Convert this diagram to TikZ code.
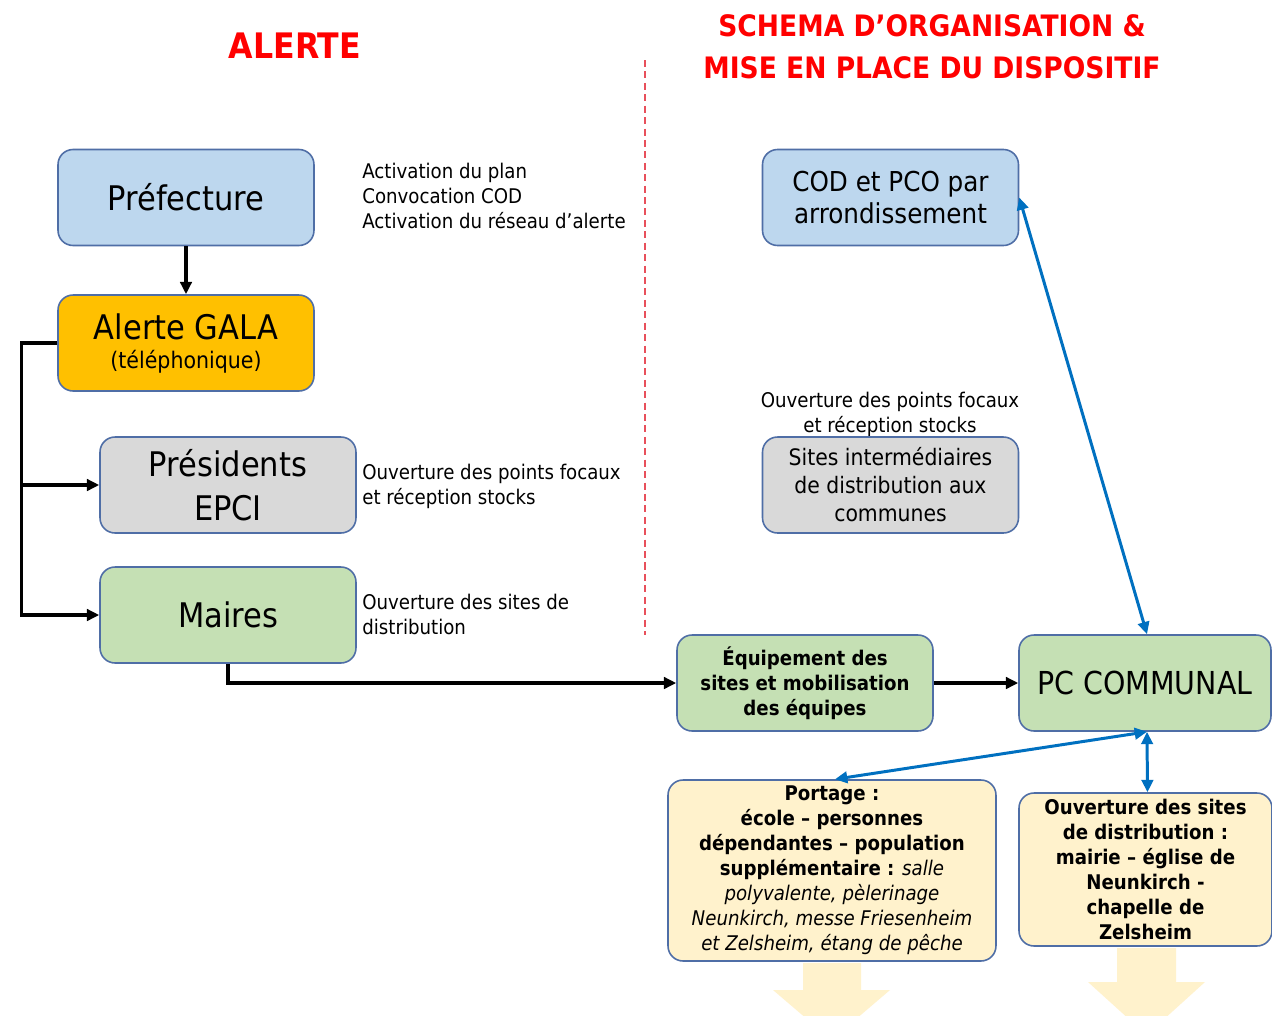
\documentclass[tikz,border=0pt]{standalone}
\usepackage{fontspec}
\setmainfont{DejaVu Sans Condensed}[BoldFont={DejaVu Sans Condensed Bold},ItalicFont={DejaVu Sans Condensed Oblique},BoldItalicFont={DejaVu Sans Condensed Bold Oblique}]
\usetikzlibrary{arrows.meta}
\definecolor{blueF}{HTML}{BDD7EE}
\definecolor{goldF}{HTML}{FFC000}
\definecolor{grayF}{HTML}{D9D9D9}
\definecolor{greenF}{HTML}{C5E0B4}
\definecolor{creamF}{HTML}{FFF2CC}
\definecolor{bordC}{HTML}{4F6EA6}
\definecolor{titleR}{HTML}{FF0000}
\definecolor{dashR}{HTML}{E8505B}
\definecolor{arrB}{HTML}{0070C0}
\newcommand{\fsz}[2]{\fontsize{#1}{#2}\selectfont}
\tikzset{
  box/.style={draw=bordC, line width=0.9pt, rounded corners=0.3cm, align=center, inner sep=0pt, text=black},
  std/.style={box, minimum width=5.12cm, minimum height=1.92cm},
  bigtxt/.style={font=\fsz{19.3}{25}},
  note/.style={align=left, inner sep=0pt, font=\fsz{11.5}{14.2}},
  bnote/.style={font=\fsz{11.5}{14.2}},
  conn/.style={line width=1.9pt, -{Triangle[length=7pt,width=6.5pt]}},
  bconn/.style={line width=1.7pt, arrB, {Triangle[length=7pt,width=6.5pt]}-{Triangle[length=7pt,width=6.5pt]}},
  ttl/.style={text=titleR, font=\bfseries\fsz{17}{24}, align=center, inner sep=0pt},
  blk/.style={fill=creamF, draw=none}
}
\begin{document}
\begin{tikzpicture}[x=0.02cm,y=-0.02cm]
\useasboundingbox (0,0) rectangle (1272,1015);
\clip (0,0) rectangle (1272,1015);
\fill[white] (0,0) rectangle (1272,1015);

% titles
\node[ttl, font=\bfseries\fsz{20}{24}] (t1) at (295,46) {ALERTE};
\node[ttl, font=\bfseries\fsz{16.8}{24}] (t2) at (932,47) {SCHEMA D’ORGANISATION \&\\MISE EN PLACE DU DISPOSITIF};

% dashed separator
\coordinate (d1) at (645,60);
\coordinate (d2) at (645,635);
\draw[dashR, line width=0.7pt, dash pattern=on 4pt off 2.5pt] (d1) -- (d2);

% left column
\node[std, fill=blueF, bigtxt] (pref) at (186,197.5) {Préfecture};
\node[std, fill=goldF, font=\fsz{19.3}{16.5}] (gala) at (186,343) {Alerte GALA\\{\fsz{13}{16.5}(téléphonique)}};
\node[std, fill=grayF, bigtxt] (epci) at (228,485) {Présidents\\EPCI};
\node[std, fill=greenF, bigtxt] (maires) at (228,615) {Maires};

\node[note, anchor=west] (n1) at (362,196) {Activation du plan\\Convocation COD\\Activation du réseau d’alerte};
\node[note, anchor=west] (n2) at (362,486) {Ouverture des points focaux\\et réception stocks};
\node[note, anchor=west] (n3) at (362,614) {Ouverture des sites de\\distribution};

% right column
\node[std, fill=blueF, font=\fsz{15.6}{18}] (cod) at (890.5,197.5) {COD et PCO par\\arrondissement};
\node[note, align=center] (n4) at (890,414) {Ouverture des points focaux\\et réception stocks};
\node[std, fill=grayF, font=\fsz{12.9}{15.9}] (sites) at (890.5,485) {Sites intermédiaires\\de distribution aux\\communes};

\node[std, fill=greenF, bnote] (equip) at (805,683) {\bfseries Équipement des\\\bfseries sites et mobilisation\\\bfseries des équipes};
\node[box, fill=greenF, minimum width=5.04cm, minimum height=1.92cm, font=\fsz{18}{22}] (pc) at (1145,683) {PC COMMUNAL};

\node[box, fill=creamF, minimum width=6.56cm, minimum height=3.62cm, bnote] (portage) at (832,870.5)
 {\textbf{Portage :}\\\textbf{école – personnes}\\\textbf{dépendantes – population}\\\textbf{supplémentaire :} \textit{salle}\\\textit{polyvalente, pèlerinage}\\\textit{Neunkirch, messe Friesenheim}\\\textit{et Zelsheim, étang de pêche}};
\node[box, fill=creamF, minimum width=5.06cm, minimum height=3.06cm, bnote] (ouv) at (1145.5,869.5)
 {\bfseries Ouverture des sites\\\bfseries de distribution :\\\bfseries mairie – église de\\\bfseries Neunkirch -\\\bfseries chapelle de\\\bfseries Zelsheim};

% block arrows below
\fill[blk] (803,963) -- (861,963) -- (861,990) -- (890,990) -- (831.5,1040) -- (773,990) -- (803,990) -- cycle;
\fill[blk] (1117,948) -- (1176,948) -- (1176,982) -- (1205,982) -- (1146.5,1035) -- (1088,982) -- (1117,982) -- cycle;

% black connectors
\draw[conn] (pref.south) -- (gala.north);
\draw[conn] (gala.west) -- ++(-36,0) |- (epci.west);
\draw[conn] (gala.west) -- ++(-36,0) |- (maires.west);
\draw[conn] (maires.south) |- (equip.west);
\draw[conn] (equip.east) -- (pc.west);

% blue connectors
\draw[bconn] (cod.east) -- ([xshift=0.04cm]pc.north);
\draw[bconn] ([xshift=0.04cm]pc.south) -- ([xshift=0.06cm]portage.north);
\draw[bconn] ([xshift=0.04cm]pc.south) -- ([xshift=0.04cm]ouv.north);
\end{tikzpicture}
\end{document}
